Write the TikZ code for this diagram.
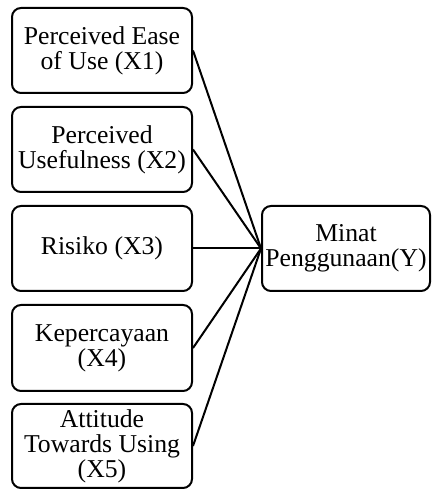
\documentclass[tikz,border=0pt]{standalone}
\usepackage{fontspec}
\setmainfont{Liberation Serif}
\newfontfamily\tnr{Liberation Serif}
\begin{document}
\begin{tikzpicture}[x=1pt,y=1pt,
  box/.style={draw=black, line width=2pt, rounded corners=9pt, align=center,
    inner sep=0pt, minimum width=180pt, minimum height=85pt,
    font=\tnr\fontsize{25.7}{25}\selectfont},
  link/.style={draw=black, line width=2pt}]
\useasboundingbox (0,0) rectangle (431,489);
\node[box] (b1) at (102,438.5) {Perceived Ease\\of Use (X1)};
\node[box] (b2) at (102,339.5) {Perceived\\Usefulness (X2)};
\node[box] (b3) at (102,240.5) {Risiko (X3)};
\node[box, minimum height=86pt] (b4) at (102,141) {Kepercayaan\\(X4)};
\node[box, minimum height=84pt] (b5) at (102,43) {Attitude\\Towards Using\\(X5)};
\node[box, minimum width=168pt] (y) at (346,240.5) {Minat\\Penggunaan(Y)};
\foreach \b in {b1,b2,b3,b4,b5} \draw[link] (\b.east) -- (y.west);
\end{tikzpicture}
\end{document}
